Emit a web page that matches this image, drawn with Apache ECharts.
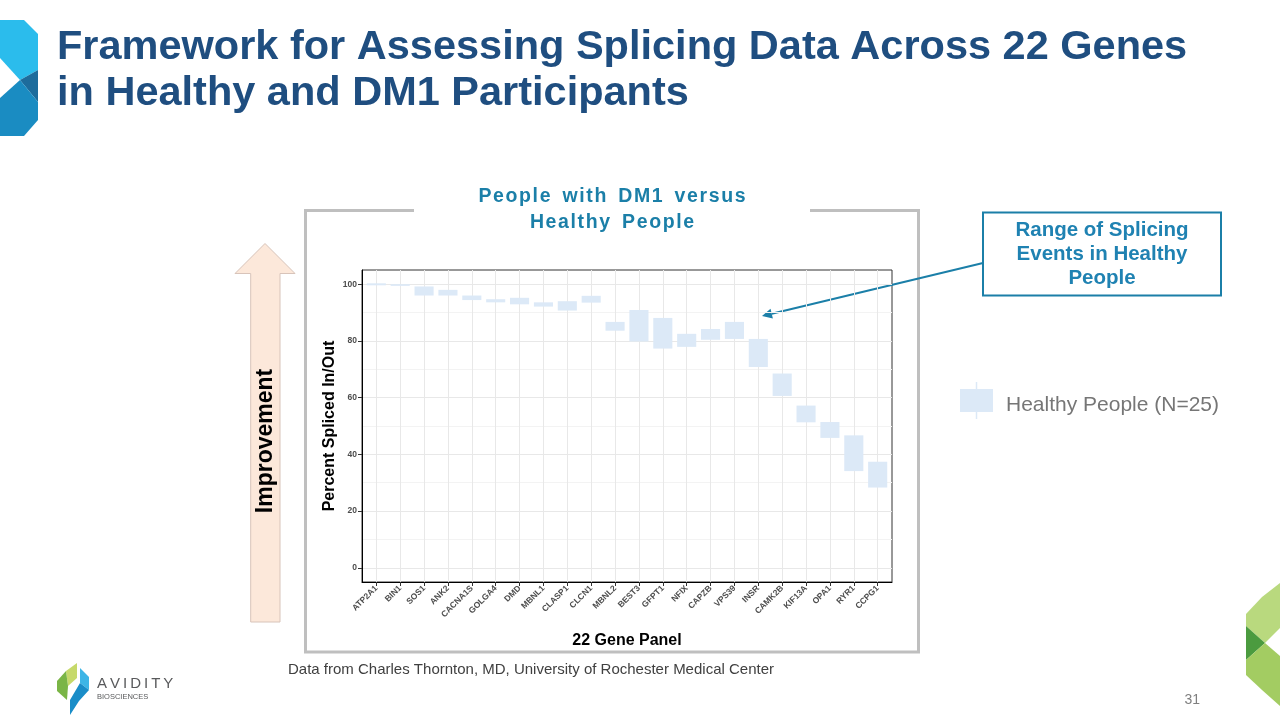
<!DOCTYPE html>
<html>
<head>
<meta charset="utf-8">
<script src="https://cdn.jsdelivr.net/npm/echarts@6/dist/echarts.min.js"></script>
<style>
html,body{margin:0;padding:0;background:#fff;}
#chart{width:1280px;height:720px;}
</style>
</head>
<body>
<div id="chart"></div>
<script>
// ---- data ----
const genes = ['ATP2A1','BIN1','SOS1','ANK2','CACNA1S','GOLGA4','DMD','MBNL1','CLASP1','CLCN1','MBNL2','BEST3','GFPT1','NFIX','CAPZB','VPS39','INSR','CAMK2B','KIF13A','OPA1','RYR1','CCPG1'];
const lowValues  = [99.6, 99.4, 96.0, 96.0, 94.4, 93.6, 92.9, 92.1, 90.7, 93.5, 83.6, 79.8, 77.3, 77.9, 80.4, 80.7, 70.8, 60.6, 51.3, 45.8, 34.1, 28.3];
const highValues = [100.3, 100.0, 99.2, 98.0, 96.0, 94.7, 95.2, 93.6, 94.0, 95.9, 86.7, 90.9, 88.1, 82.5, 84.2, 86.7, 80.7, 68.5, 57.2, 51.4, 46.7, 37.4];
const yTicks = [0, 20, 40, 60, 80, 100];
const yMinorGrid = [10, 30, 50, 70, 90];
const seriesName = 'Healthy People (N=25)';

const positions = genes.map((g, i) => i + 1);
const boxData = genes.map((g, i) => [i + 1, lowValues[i], highValues[i]]);

const BOX = '#dce9f7';
const TEAL = '#1b7fa8';
const NAVY = '#1f4e80';
const FONT = '"Liberation Sans", Arial, sans-serif';

const gridLines = []
  .concat(yTicks.map(v => ({ yAxis: v, lineStyle: { color: '#e8e8e8', width: 1, type: 'solid' } })))
  .concat(yMinorGrid.map(v => ({ yAxis: v, lineStyle: { color: '#f3f3f3', width: 1, type: 'solid' } })))
  .concat(positions.map(v => ({ xAxis: v, lineStyle: { color: '#e8e8e8', width: 1, type: 'solid' } })));

const chart = echarts.init(document.getElementById('chart'));

const graphic = [
  // top-left logo
  { type: 'polygon', shape: { points: [[0,20],[24,20],[38,34],[38,70],[20,80],[0,58]] }, style: { fill: '#2bbcec' } },
  { type: 'polygon', shape: { points: [[20,80],[38,70],[38,102]] }, style: { fill: '#1d6c9c' } },
  { type: 'polygon', shape: { points: [[0,98],[20,80],[38,102],[38,120],[24,136],[0,136]] }, style: { fill: '#1a8cc2' } },
  // title
  { type: 'text', left: 57, top: 27, style: { text: 'Framework for Assessing Splicing Data Across 22 Genes', font: 'bold 41.5px ' + FONT, fill: NAVY } },
  { type: 'text', left: 57, top: 73, style: { text: 'in Healthy and DM1 Participants', font: 'bold 41.5px ' + FONT, fill: NAVY } },
  // gray frame with gap
  { type: 'polyline', shape: { points: [[414,210.5],[305.5,210.5],[305.5,652],[918.5,652],[918.5,210.5],[810,210.5]] }, style: { stroke: '#bfbfbf', lineWidth: 3, fill: null } },
  // panel heading
  { type: 'text', x: 612, y: 197, style: { text: 'People\u200A with\u200A DM1\u200A versus'.split('').join('\u200A'), font: 'bold 19.5px ' + FONT, fill: TEAL, align: 'center', verticalAlign: 'middle' } },
  { type: 'text', x: 612, y: 223, style: { text: 'Healthy\u200A People'.split('').join('\u200A'), font: 'bold 19.5px ' + FONT, fill: TEAL, align: 'center', verticalAlign: 'middle' } },
  // improvement arrow
  { type: 'polygon', shape: { points: [[265,243.5],[295,273.5],[280,273.5],[280,622],[250.7,622],[250.7,273.5],[235,273.5]] }, style: { fill: '#fce8da', stroke: '#d8c4ba', lineWidth: 1 } },
  { type: 'text', x: 266, y: 441, rotation: Math.PI / 2, style: { text: 'Improvement', font: 'bold 23px ' + FONT, fill: '#000', align: 'center', verticalAlign: 'middle' } },
  // callout
  { type: 'rect', shape: { x: 983, y: 212.5, width: 238, height: 83 }, style: { fill: '#fff', stroke: TEAL, lineWidth: 2 } },
  { type: 'text', x: 1102, y: 254, style: { text: 'Range of Splicing\nEvents in Healthy\nPeople', font: 'bold 20.5px ' + FONT, lineHeight: 24, fill: '#1f82b2', align: 'center', verticalAlign: 'middle' } },
  { type: 'line', shape: { x1: 983, y1: 263, x2: 771.7, y2: 313.7 }, style: { stroke: TEAL, lineWidth: 2 } },
  { type: 'polygon', shape: { points: [[762,316],[772.9,318.5],[770.5,308.8]] }, style: { fill: TEAL } },
  // legend
  { type: 'line', shape: { x1: 976.5, y1: 382, x2: 976.5, y2: 419 }, style: { stroke: BOX, lineWidth: 1.5 } },
  { type: 'rect', shape: { x: 960, y: 389, width: 33, height: 23 }, style: { fill: BOX } },
  { type: 'text', x: 1006, y: 405, style: { text: seriesName, font: '21px ' + FONT, fill: '#767676', verticalAlign: 'middle' } },
  // footnote
  { type: 'text', x: 288, y: 670, style: { text: 'Data from Charles Thornton, MD, University of Rochester Medical Center', font: '15px ' + FONT, fill: '#404040', verticalAlign: 'middle' } },
  // avidity logo
  { type: 'polygon', shape: { points: [[66,671],[77,663],[77,678],[68,686]] }, style: { fill: '#c6d96a' } },
  { type: 'polygon', shape: { points: [[57,681],[66,671],[68,686],[67,700],[57,691]] }, style: { fill: '#7ab546' } },
  { type: 'polygon', shape: { points: [[80,668],[89,677],[89,690],[80,683]] }, style: { fill: '#3db5e6' } },
  { type: 'polygon', shape: { points: [[89,690],[79,701],[70,715],[70,700],[80,683]] }, style: { fill: '#1a8dc8' } },
  { type: 'text', x: 97, y: 684, style: { text: 'AVIDITY'.split('').join('\u2009'), font: '15px ' + FONT, fill: '#58595b', verticalAlign: 'middle' } },
  { type: 'text', x: 97, y: 697, style: { text: 'BIOSCIENCES', font: '7.5px ' + FONT, fill: '#58595b', verticalAlign: 'middle' } },
  // bottom-right green logo
  { type: 'polygon', shape: { points: [[1262,597],[1280,583],[1280,628],[1265,643],[1246,626],[1246,614]] }, style: { fill: '#b9d97e' } },
  { type: 'polygon', shape: { points: [[1246,626],[1265,643],[1246,660]] }, style: { fill: '#4b9b3f' } },
  { type: 'polygon', shape: { points: [[1246,660],[1265,643],[1280,656],[1280,706],[1262,690],[1246,675]] }, style: { fill: '#a3cc62' } },
  // page number
  { type: 'text', x: 1200, y: 700, style: { text: '31', font: '14px ' + FONT, fill: '#7f7f7f', align: 'right', verticalAlign: 'middle' } }
];

chart.setOption({
  animation: false,
  backgroundColor: '#fff',
  textStyle: { fontFamily: FONT },
  grid: { left: 362, top: 270, width: 530, height: 312, containLabel: false, outerBoundsMode: 'none', show: true, borderColor: '#333', borderWidth: 1, backgroundColor: '#fff' },
  xAxis: {
    type: 'value', min: 0.4, max: 22.6, z: 6,
    axisLine: { show: true, onZero: false, lineStyle: { color: '#000', width: 1 } },
    axisTick: { show: true, customValues: positions, length: 4, lineStyle: { color: '#333' } },
    axisLabel: { customValues: positions, formatter: v => genes[Math.round(v) - 1], rotate: 45, fontSize: 8.5, fontWeight: 'bold', color: '#4d4d4d', margin: 5 },
    splitLine: { show: false },
    name: '22 Gene Panel', nameLocation: 'middle', nameGap: 51,
    nameTextStyle: { fontSize: 16, fontWeight: 'bold', color: '#000' }
  },
  yAxis: {
    type: 'value', min: -5, max: 105, z: 6,
    axisLine: { show: true, onZero: false, lineStyle: { color: '#000', width: 1 } },
    axisTick: { show: true, customValues: yTicks, length: 4, lineStyle: { color: '#333' } },
    axisLabel: { customValues: yTicks, fontSize: 8.5, fontWeight: 'bold', color: '#4d4d4d', margin: 5 },
    splitLine: { show: false },
    name: 'Percent Spliced In/Out', nameLocation: 'middle', nameGap: 24, nameRotate: 90,
    nameTextStyle: { fontSize: 16, fontWeight: 'bold', color: '#000' }
  },
  series: [
    {
      type: 'custom', name: 'grid', z: 1, silent: true,
      data: [],
      renderItem: () => null,
      markLine: { z: 1, silent: true, symbol: ['none', 'none'], label: { show: false }, animation: false, lineStyle: { type: 'solid' }, data: gridLines }
    },
    {
      type: 'custom', name: seriesName, z: 4,
      data: boxData,
      encode: { x: 0, y: [1, 2] },
      renderItem: function (params, api) {
        const x = api.value(0);
        const top = api.coord([x, api.value(2)]);
        const bot = api.coord([x, api.value(1)]);
        const w = api.size([0.8, 0])[0];
        return { type: 'rect', shape: { x: top[0] - w / 2, y: top[1], width: w, height: Math.max(1.5, bot[1] - top[1]) }, style: { fill: BOX } };
      }
    }
  ],
  graphic: graphic
});
</script>
</body>
</html>
